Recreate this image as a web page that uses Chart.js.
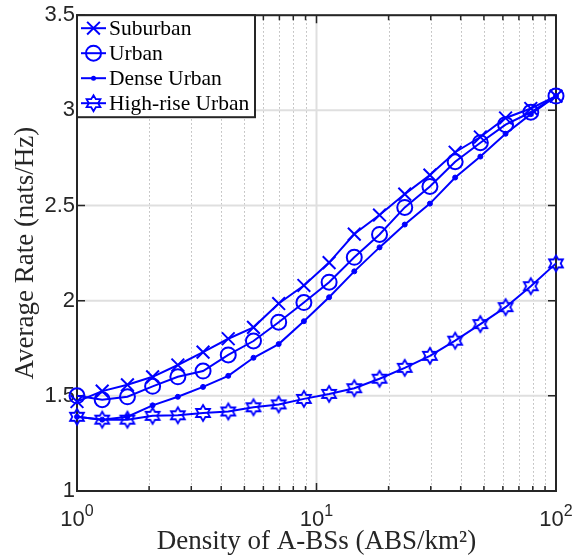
<!DOCTYPE html>
<html><head><meta charset="utf-8">
<script src="https://cdn.jsdelivr.net/npm/chart.js@4/dist/chart.umd.min.js"></script>
<style>html,body{margin:0;padding:0;background:#fff}#wrap{width:573px;height:559px;position:relative}</style>
</head><body><div id="wrap"><canvas id="c" width="573" height="559"></canvas></div>
<script>
// ---- data ----
const densities = [1.000, 1.274, 1.624, 2.069, 2.637, 3.360, 4.281, 5.456, 6.952, 8.859, 11.29, 14.38, 18.33, 23.36, 29.76, 37.93, 48.33, 61.58, 78.48, 100.0];
const seriesNames = ['Suburban', 'Urban', 'Dense Urban', 'High-rise Urban'];
const suburban      = [1.470, 1.525, 1.558, 1.600, 1.662, 1.730, 1.800, 1.860, 1.985, 2.080, 2.200, 2.350, 2.450, 2.560, 2.660, 2.780, 2.860, 2.960, 3.010, 3.075];
const urban         = [1.500, 1.480, 1.495, 1.550, 1.600, 1.630, 1.715, 1.788, 1.887, 1.990, 2.097, 2.228, 2.348, 2.490, 2.600, 2.730, 2.830, 2.925, 2.990, 3.075];
const denseUrban    = [1.390, 1.375, 1.390, 1.450, 1.495, 1.547, 1.605, 1.700, 1.772, 1.892, 2.018, 2.154, 2.280, 2.400, 2.510, 2.647, 2.757, 2.877, 2.980, 3.075];
const highRiseUrban = [1.390, 1.375, 1.375, 1.395, 1.398, 1.410, 1.418, 1.440, 1.455, 1.484, 1.510, 1.540, 1.590, 1.647, 1.710, 1.790, 1.877, 1.966, 2.076, 2.196];
const yTicks = [1, 1.5, 2, 2.5, 3, 3.5];
const yTickLabels = ['1', '1.5', '2', '2.5', '3', '3.5'];
const xMajorTicks = [1, 10, 100];
const xTickExponents = ['0', '1', '2'];
const xMinorTicks = [2, 3, 4, 5, 6, 7, 8, 9, 20, 30, 40, 50, 60, 70, 80, 90];

// ---- styles ----
const BLUE = '#0000ff';
const AXIS = '#262626';

function makeHexagram(R, lw) {
  const s = Math.ceil(2 * R + 2 * lw + 2);
  const cv = document.createElement('canvas');
  cv.width = s; cv.height = s;
  const g = cv.getContext('2d');
  drawHexagram(g, s / 2, s / 2, R, lw);
  return cv;
}
function drawHexagram(g, cx, cy, R, lw) {
  const r = R / Math.sqrt(3);
  g.beginPath();
  for (let k = 0; k < 12; k++) {
    const a = -Math.PI / 2 + k * Math.PI / 6;
    const rr = (k % 2 === 0) ? R : r;
    const px = cx + rr * Math.cos(a), py = cy + rr * Math.sin(a);
    if (k === 0) g.moveTo(px, py); else g.lineTo(px, py);
  }
  g.closePath();
  g.strokeStyle = BLUE; g.lineWidth = lw; g.lineJoin = 'miter';
  g.stroke();
}
const hexImg = makeHexagram(8, 1.8);

function drawMarker(ctx, kind, x, y) {
  ctx.save();
  ctx.strokeStyle = BLUE; ctx.fillStyle = BLUE; ctx.lineWidth = 2;
  if (kind === 0) {
    const d = 9 * Math.SQRT1_2;
    ctx.beginPath();
    ctx.moveTo(x - d, y - d); ctx.lineTo(x + d, y + d);
    ctx.moveTo(x - d, y + d); ctx.lineTo(x + d, y - d);
    ctx.stroke();
  } else if (kind === 1) {
    ctx.beginPath(); ctx.arc(x, y, 7.5, 0, Math.PI * 2); ctx.stroke();
  } else if (kind === 2) {
    ctx.beginPath(); ctx.arc(x, y, 2.5, 0, Math.PI * 2); ctx.fill();
  } else {
    drawHexagram(ctx, x, y, 8, 1.8);
  }
  ctx.restore();
}

const matlabPlugin = {
  id: 'matlab',
  beforeDatasetsDraw(chart) {
    const ctx = chart.ctx, ca = chart.chartArea, xs = chart.scales.x, ys = chart.scales.y;
    ctx.save();
    // minor dotted grid
    ctx.strokeStyle = '#b8b8b8'; ctx.lineWidth = 1; ctx.setLineDash([1.5, 2.5]);
    xMinorTicks.forEach(v => {
      const px = Math.round(xs.getPixelForValue(v)) + 0.5;
      ctx.beginPath(); ctx.moveTo(px, ca.top); ctx.lineTo(px, ca.bottom); ctx.stroke();
    });
    ctx.setLineDash([]);
    // major grid
    ctx.strokeStyle = '#dfdfdf'; ctx.lineWidth = 2;
    xMajorTicks.forEach(v => {
      const px = xs.getPixelForValue(v);
      ctx.beginPath(); ctx.moveTo(px, ca.top); ctx.lineTo(px, ca.bottom); ctx.stroke();
    });
    yTicks.forEach(v => {
      const py = ys.getPixelForValue(v);
      ctx.beginPath(); ctx.moveTo(ca.left, py); ctx.lineTo(ca.right, py); ctx.stroke();
    });
    // axes box
    ctx.strokeStyle = AXIS; ctx.lineWidth = 2;
    ctx.strokeRect(ca.left, ca.top, ca.right - ca.left, ca.bottom - ca.top);
    // ticks
    ctx.lineWidth = 1.5;
    ctx.beginPath();
    xMajorTicks.forEach(v => {
      const px = xs.getPixelForValue(v);
      ctx.moveTo(px, ca.bottom); ctx.lineTo(px, ca.bottom - 8);
      ctx.moveTo(px, ca.top); ctx.lineTo(px, ca.top + 8);
    });
    xMinorTicks.forEach(v => {
      const px = xs.getPixelForValue(v);
      ctx.moveTo(px, ca.bottom); ctx.lineTo(px, ca.bottom - 5);
      ctx.moveTo(px, ca.top); ctx.lineTo(px, ca.top + 5);
    });
    yTicks.forEach(v => {
      const py = ys.getPixelForValue(v);
      ctx.moveTo(ca.left, py); ctx.lineTo(ca.left + 8, py);
      ctx.moveTo(ca.right, py); ctx.lineTo(ca.right - 8, py);
    });
    ctx.stroke();
    // x tick labels 10^n
    ctx.fillStyle = AXIS; ctx.textBaseline = 'alphabetic'; ctx.textAlign = 'left';
    xMajorTicks.forEach((v, i) => {
      const px = xs.getPixelForValue(v);
      ctx.font = '22px "Liberation Sans", Arial, sans-serif';
      const wb = ctx.measureText('10').width;
      ctx.font = '16px "Liberation Sans", Arial, sans-serif';
      const we = ctx.measureText(xTickExponents[i]).width;
      const x0 = px - (wb + we) / 2;
      ctx.font = '22px "Liberation Sans", Arial, sans-serif';
      ctx.fillText('10', x0, ca.bottom + 35);
      ctx.font = '16px "Liberation Sans", Arial, sans-serif';
      ctx.fillText(xTickExponents[i], x0 + wb, ca.bottom + 25);
    });
    ctx.restore();
  },
  afterDraw(chart) {
    const ctx = chart.ctx, ca = chart.chartArea;
    ctx.save();
    const bx = ca.left, by = ca.top, bw = 178, bh = 102;
    ctx.fillStyle = '#fff';
    ctx.fillRect(bx, by, bw, bh);
    ctx.strokeStyle = AXIS; ctx.lineWidth = 2;
    ctx.strokeRect(bx, by, bw, bh);
    ctx.font = '21.5px "Liberation Serif", "Times New Roman", serif';
    ctx.textBaseline = 'middle'; ctx.textAlign = 'left';
    seriesNames.forEach((name, i) => {
      const ry = by + 13 + i * 25;
      ctx.strokeStyle = BLUE; ctx.lineWidth = 2;
      ctx.beginPath(); ctx.moveTo(bx + 4, ry); ctx.lineTo(bx + 29, ry); ctx.stroke();
      drawMarker(ctx, i, bx + 16.5, ry);
      ctx.fillStyle = '#000';
      ctx.fillText(name, bx + 32, ry + 1);
    });
    ctx.restore();
  }
};

function pts(arr) { return arr.map((v, i) => ({ x: densities[i], y: v })); }

const common = { borderColor: BLUE, borderWidth: 2, pointBorderColor: BLUE, pointBorderWidth: 2, clip: false, fill: false, tension: 0 };

new Chart(document.getElementById('c'), {
  type: 'line',
  data: {
    datasets: [
      Object.assign({}, common, { label: seriesNames[0], data: pts(suburban), pointStyle: 'crossRot', pointRadius: 9, pointBackgroundColor: 'rgba(0,0,0,0)', order: 4 }),
      Object.assign({}, common, { label: seriesNames[1], data: pts(urban), pointStyle: 'circle', pointRadius: 7.5, pointBackgroundColor: 'rgba(0,0,0,0)', order: 3 }),
      Object.assign({}, common, { label: seriesNames[2], data: pts(denseUrban), pointStyle: 'circle', pointRadius: 2.5, pointBorderWidth: 1, pointBackgroundColor: BLUE, order: 2 }),
      Object.assign({}, common, { label: seriesNames[3], data: pts(highRiseUrban), pointStyle: hexImg, pointRadius: 8, order: 1 })
    ]
  },
  options: {
    responsive: false, animation: false, devicePixelRatio: 1,
    layout: { padding: { left: 0, right: 17, top: 14, bottom: 0 } },
    plugins: { legend: { display: false }, tooltip: { enabled: false } },
    scales: {
      x: {
        type: 'logarithmic', min: 1, max: 100,
        grid: { display: false, drawTicks: false }, border: { display: false },
        ticks: { display: false },
        title: { display: true, text: 'Density of A-BSs (ABS/km²)', color: AXIS,
          font: { family: '"Liberation Serif", "Times New Roman", serif', size: 27 }, padding: { top: 0, bottom: 1 } },
        afterFit: s => { s.height = 68; }
      },
      y: {
        type: 'linear', min: 1, max: 3.5,
        grid: { display: false, drawTicks: false }, border: { display: false },
        afterBuildTicks: s => { s.ticks = yTicks.map(v => ({ value: v })); },
        ticks: { color: AXIS, padding: 2, font: { family: '"Liberation Sans", Arial, sans-serif', size: 22 },
          callback: (v) => yTickLabels[yTicks.indexOf(v)] },
        title: { display: true, text: 'Average Rate (nats/Hz)', color: AXIS,
          font: { family: '"Liberation Serif", "Times New Roman", serif', size: 27 }, padding: { top: 10, bottom: 0 } },
        afterFit: s => { s.width = 77; }
      }
    }
  },
  plugins: [matlabPlugin]
});
</script></body></html>
